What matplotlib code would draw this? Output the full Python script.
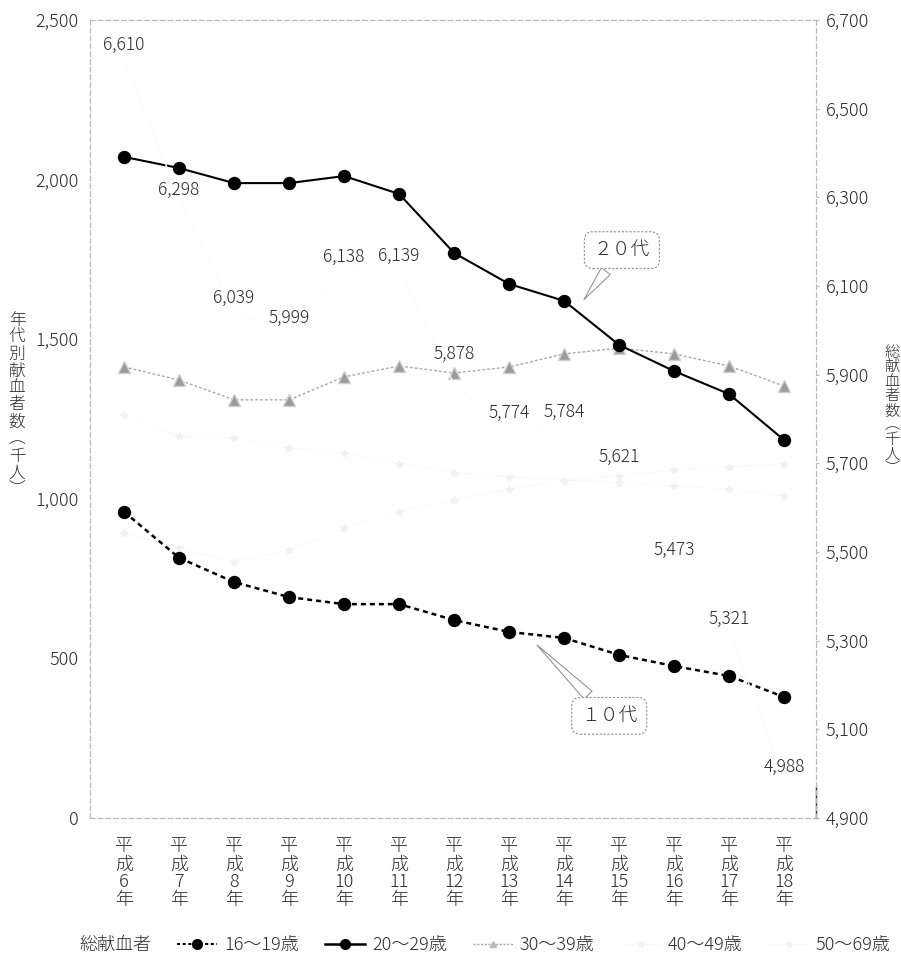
import numpy as np
import matplotlib.pyplot as plt
from matplotlib.lines import Line2D

plt.rcParams['font.family'] = ['Noto Sans CJK JP', 'DejaVu Sans']
plt.rcParams['font.weight'] = 'light'

# 年度と献血者数（千人）
years = ['6', '7', '8', '9', '10', '11', '12', '13', '14', '15', '16', '17', '18']
total = [6610, 6298, 6039, 5999, 6138, 6139, 5878, 5774, 5784, 5621, 5473, 5321, 4988]
age_16_19 = [959, 815, 739, 692, 670, 670, 620, 583, 564, 511, 476, 445, 379]
age_20_29 = [2071, 2036, 1989, 1989, 2011, 1955, 1770, 1673, 1620, 1482, 1400, 1328, 1184]
age_30_39 = [1413, 1372, 1310, 1310, 1382, 1416, 1394, 1413, 1454, 1472, 1454, 1416, 1353]
age_40_49 = [1262, 1196, 1190, 1159, 1143, 1110, 1081, 1069, 1060, 1050, 1040, 1030, 1010]
age_50_69 = [893, 846, 802, 840, 908, 960, 995, 1031, 1056, 1072, 1090, 1100, 1110]

# 総数ラベルの持ち上げ量（pt）
lift = [11, 6, 11, 9, 9, 9, 22, 13, 10, 30, 10, 9, 9]

x = np.arange(len(years))
ink = '#2a2a2a'
faint = '#f1f1f1'

fig = plt.figure(figsize=(9.01, 9.6), dpi=100)
ax = fig.add_axes([0.0999, 0.1479, 0.8058, 0.8313])
ax2 = ax.twinx()

# 総献血者（右軸）
ax2.plot(x, total, color='#fcfcfc', lw=1, zorder=1)
for xi, v, d in zip(x, total, lift):
    ax2.annotate(f'{v:,}', (xi, v), xytext=(0, d), textcoords='offset points',
                 ha='center', va='center', fontsize=12.5, color=ink)

# 年代別（左軸）
ax.plot(x, age_50_69, color=faint, lw=0.8, ls=':', marker='*', ms=6, mec=faint, mfc=faint, zorder=2)
ax.plot(x, age_40_49, color=faint, lw=0.8, ls=':', marker='*', ms=6, mec=faint, mfc=faint, zorder=2)
ax.plot(x, age_30_39, color='#a8a8a8', lw=1, ls=(0, (2, 1.5)), marker='^', ms=8,
        mfc='#9a9a9a', mec='#cfcfcf', zorder=3)
ax.plot(x, age_16_19, color='black', lw=1.8, ls=(0, (2, 1.6)), marker='o', ms=8.6, zorder=4)
ax.plot(x, age_20_29, color='black', lw=1.5, marker='o', ms=8.6, zorder=5)

ax.set_xlim(-0.62, 12.58)
ax.set_ylim(0, 2500)
ax2.set_ylim(4900, 6700)

ax.set_yticks(range(0, 2501, 500))
ax.set_yticklabels([f'{v:,}' for v in range(0, 2501, 500)])
ax2.set_yticks(range(4900, 6701, 200))
ax2.set_yticklabels([f'{v:,}' for v in range(4900, 6701, 200)])
ax.set_xticks(x)
ax.set_xticklabels(['\n'.join(['平', '成', y, '年']) for y in years], linespacing=1.0)

ax.tick_params(axis='y', length=0, pad=8, labelsize=13, labelcolor=ink)
ax2.tick_params(axis='y', length=2, color='#bbbbbb', pad=5, labelsize=13, labelcolor=ink)
ax.tick_params(axis='x', length=0, pad=14, labelsize=13, labelcolor=ink)

for a in (ax, ax2):
    for side, sp in a.spines.items():
        sp.set_color('#b8b8b8')
        sp.set_linewidth(0.8)
        sp.set_linestyle((0, (4, 3)))
ax2.plot([1, 1], [4900, 4970], transform=ax2.get_yaxis_transform(), color=ink, lw=1, clip_on=False)

# 吹き出し
box = dict(boxstyle='round,pad=0.5,rounding_size=0.45', fc='white', ec='#909090', ls=(0, (2, 1.5)), lw=0.8)
arrow = dict(arrowstyle='wedge,tail_width=0.6,shrink_factor=0.5', fc='white', ec='#888888', lw=0.7)
ax.annotate('２０代', xy=(8.33, 1617), xytext=(9.05, 1779), ha='center', va='center',
            fontsize=13.5, color=ink, bbox=box, arrowprops=arrow, zorder=6)
ax.annotate('１０代', xy=(7.47, 548), xytext=(8.82, 320), ha='center', va='center',
            fontsize=13.5, color=ink, bbox=box, arrowprops=arrow, zorder=6)

# 軸タイトル（縦書き）
fig.text(17 / 901, 1 - 405 / 960, '\n'.join('年代別献血者数︵千人︶'), ha='center', va='center',
         fontsize=12, color=ink, linespacing=1.0)
fig.text(892 / 901, 1 - 411 / 960, '\n'.join('総献血者数︵千人︶'), ha='center', va='center',
         fontsize=11, color=ink, linespacing=1.05)

handles = [
    Line2D([], [], color='#fcfcfc', lw=1),
    Line2D([], [], color='black', lw=1.5, ls=(0, (1.5, 1.2)), marker='o', ms=7),
    Line2D([], [], color='black', lw=1.8, marker='o', ms=7),
    Line2D([], [], color='#a8a8a8', lw=1, ls=(0, (1.5, 1.2)), marker='^', ms=5, mfc='#bbbbbb', mec='#bbbbbb'),
    Line2D([], [], color=faint, lw=1, ls=':', marker='*', ms=5, mfc=faint, mec=faint),
    Line2D([], [], color=faint, lw=1, ls=':', marker='*', ms=5, mfc=faint, mec=faint),
]
labels = ['総献血者', '16～19歳', '20～29歳', '30～39歳', '40～49歳', '50～69歳']
leg = fig.legend(handles, labels, loc='center', bbox_to_anchor=(0.512, 0.0156), ncol=6, frameon=False,
                 fontsize=13, handlelength=2.2, handletextpad=0.4, columnspacing=1.45)
for t in leg.get_texts():
    t.set_color(ink)

fig.savefig('out.png', dpi=100)
